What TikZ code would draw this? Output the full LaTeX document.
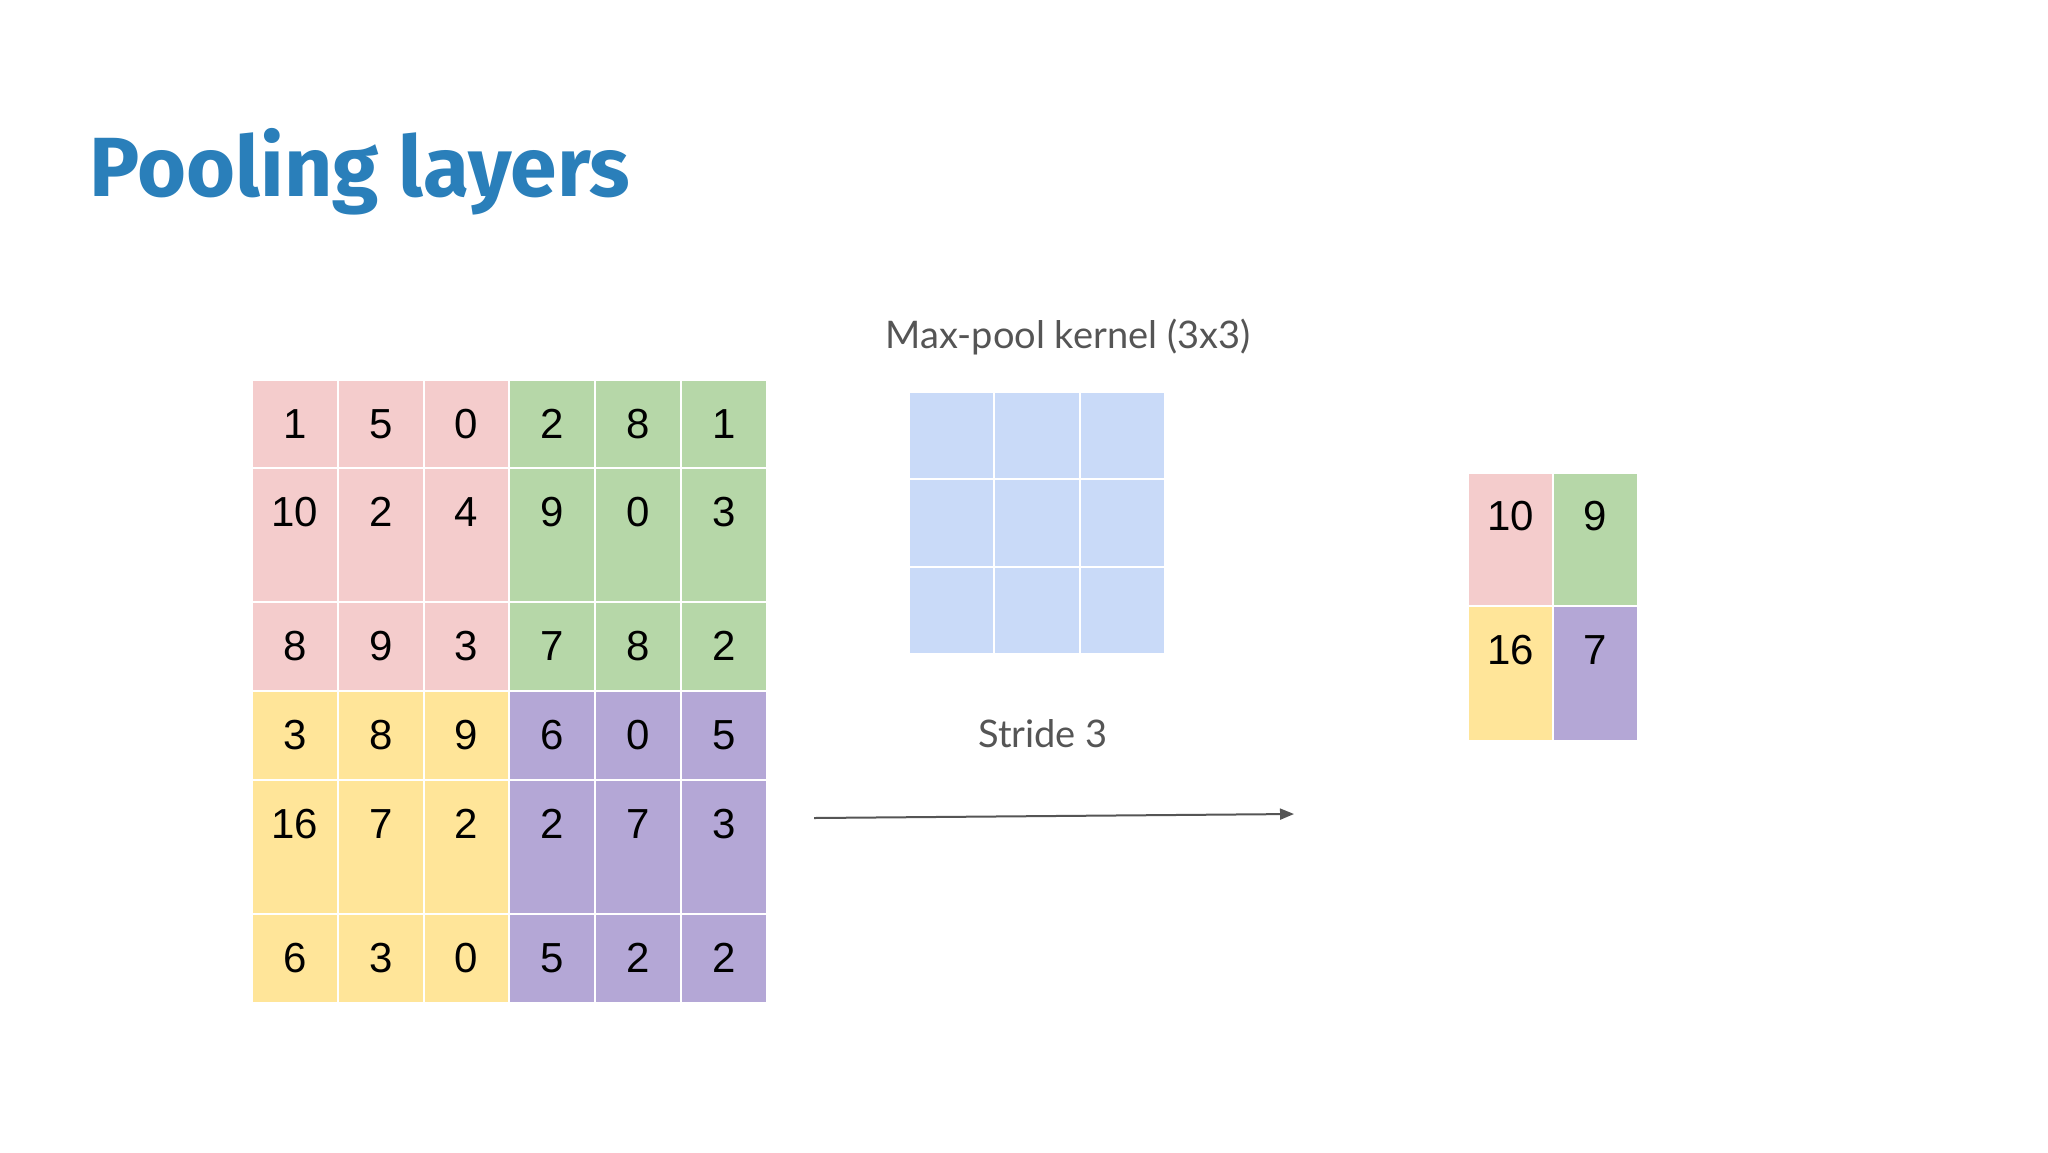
\documentclass[tikz,border=0pt]{standalone}
\usepackage{fontspec}
\setmainfont{Liberation Sans}
\newfontfamily\labelfont{Lato}
\newfontfamily\titlefont{Fira Sans}
\usetikzlibrary{arrows.meta}
\definecolor{pinkc}{HTML}{F4CCCC}
\definecolor{greenc}{HTML}{B6D7A8}
\definecolor{yellowc}{HTML}{FFE599}
\definecolor{purplec}{HTML}{B4A7D6}
\definecolor{bluec}{HTML}{C9DAF8}
\definecolor{titlec}{HTML}{2A7FBA}
\definecolor{grayc}{HTML}{555555}
\begin{document}
\begin{tikzpicture}[x=0.5pt,y=-0.5pt,
  cellbox/.style={draw=white,line width=1pt},
  numtext/.style={font=\fontsize{21}{25}\selectfont,text=black,inner sep=0pt},
  labeltext/.style={font=\labelfont\fontsize{19}{23}\selectfont,text=grayc,inner sep=0pt},
  arrowline/.style={draw=grayc,line width=1pt,-{Triangle[length=7pt,width=5.5pt]}}]
\useasboundingbox[fill=white] (0,0) rectangle (2048,1152);
% title
\node[anchor=base west,inner sep=0pt,text=titlec,font=\titlefont\bfseries\fontsize{42}{50}\selectfont] (title) at (89,196) {Pooling layers};
% big grid
\def\cw{85.83}
\foreach \row [count=\i] in {{1,5,0,2,8,1},{10,2,4,9,0,3},{8,9,3,7,8,2},{3,8,9,6,0,5},{16,7,2,2,7,3},{6,3,0,5,2,2}}{
  \pgfmathsetmacro{\top}{{380,468,602,691,780,914}[\i-1]}
  \pgfmathsetmacro{\bot}{{468,602,691,780,914,1003}[\i-1]}
  \foreach \v [count=\j] in \row {
    \pgfmathsetmacro{\xl}{252+\cw*(\j-1)}
    \pgfmathsetmacro{\xr}{252+\cw*\j}
    \ifnum\i<4 \ifnum\j<4 \def\cc{pinkc}\else\def\cc{greenc}\fi
    \else \ifnum\j<4 \def\cc{yellowc}\else\def\cc{purplec}\fi\fi
    \path[cellbox,fill=\cc] (\xl,\top) rectangle (\xr,\bot);
    \node[numtext] (n-\i-\j) at ({(\xl+\xr)/2},\top+44) {\v};
  }
}
% kernel
\node[labeltext] (klabel) at (1068,337) {Max-pool kernel (3x3)};
\foreach \i in {0,1,2}{
  \foreach \j in {0,1,2}{
    \path[cellbox,fill=bluec] ({909+85.3*\j},{392+87.3*\i}) rectangle ({909+85.3*(\j+1)},{392+87.3*(\i+1)});
  }
}
\node[labeltext] (stride) at (1043,734) {Stride 3};
% arrow
\coordinate (a1) at (814,818);
\coordinate (a2) at (1294,814);
\draw[arrowline] (a1) -- (a2);
% output grid
\path[cellbox,fill=pinkc] (1468,473) rectangle (1553,606);
\path[cellbox,fill=greenc] (1553,473) rectangle (1638,606);
\path[cellbox,fill=yellowc] (1468,606) rectangle (1553,741);
\path[cellbox,fill=purplec] (1553,606) rectangle (1638,741);
\node[numtext] (o11) at (1510.5,516) {10};
\node[numtext] (o12) at (1595.5,516) {9};
\node[numtext] (o21) at (1510.5,650) {16};
\node[numtext] (o22) at (1595.5,650) {7};
\end{tikzpicture}
\end{document}
